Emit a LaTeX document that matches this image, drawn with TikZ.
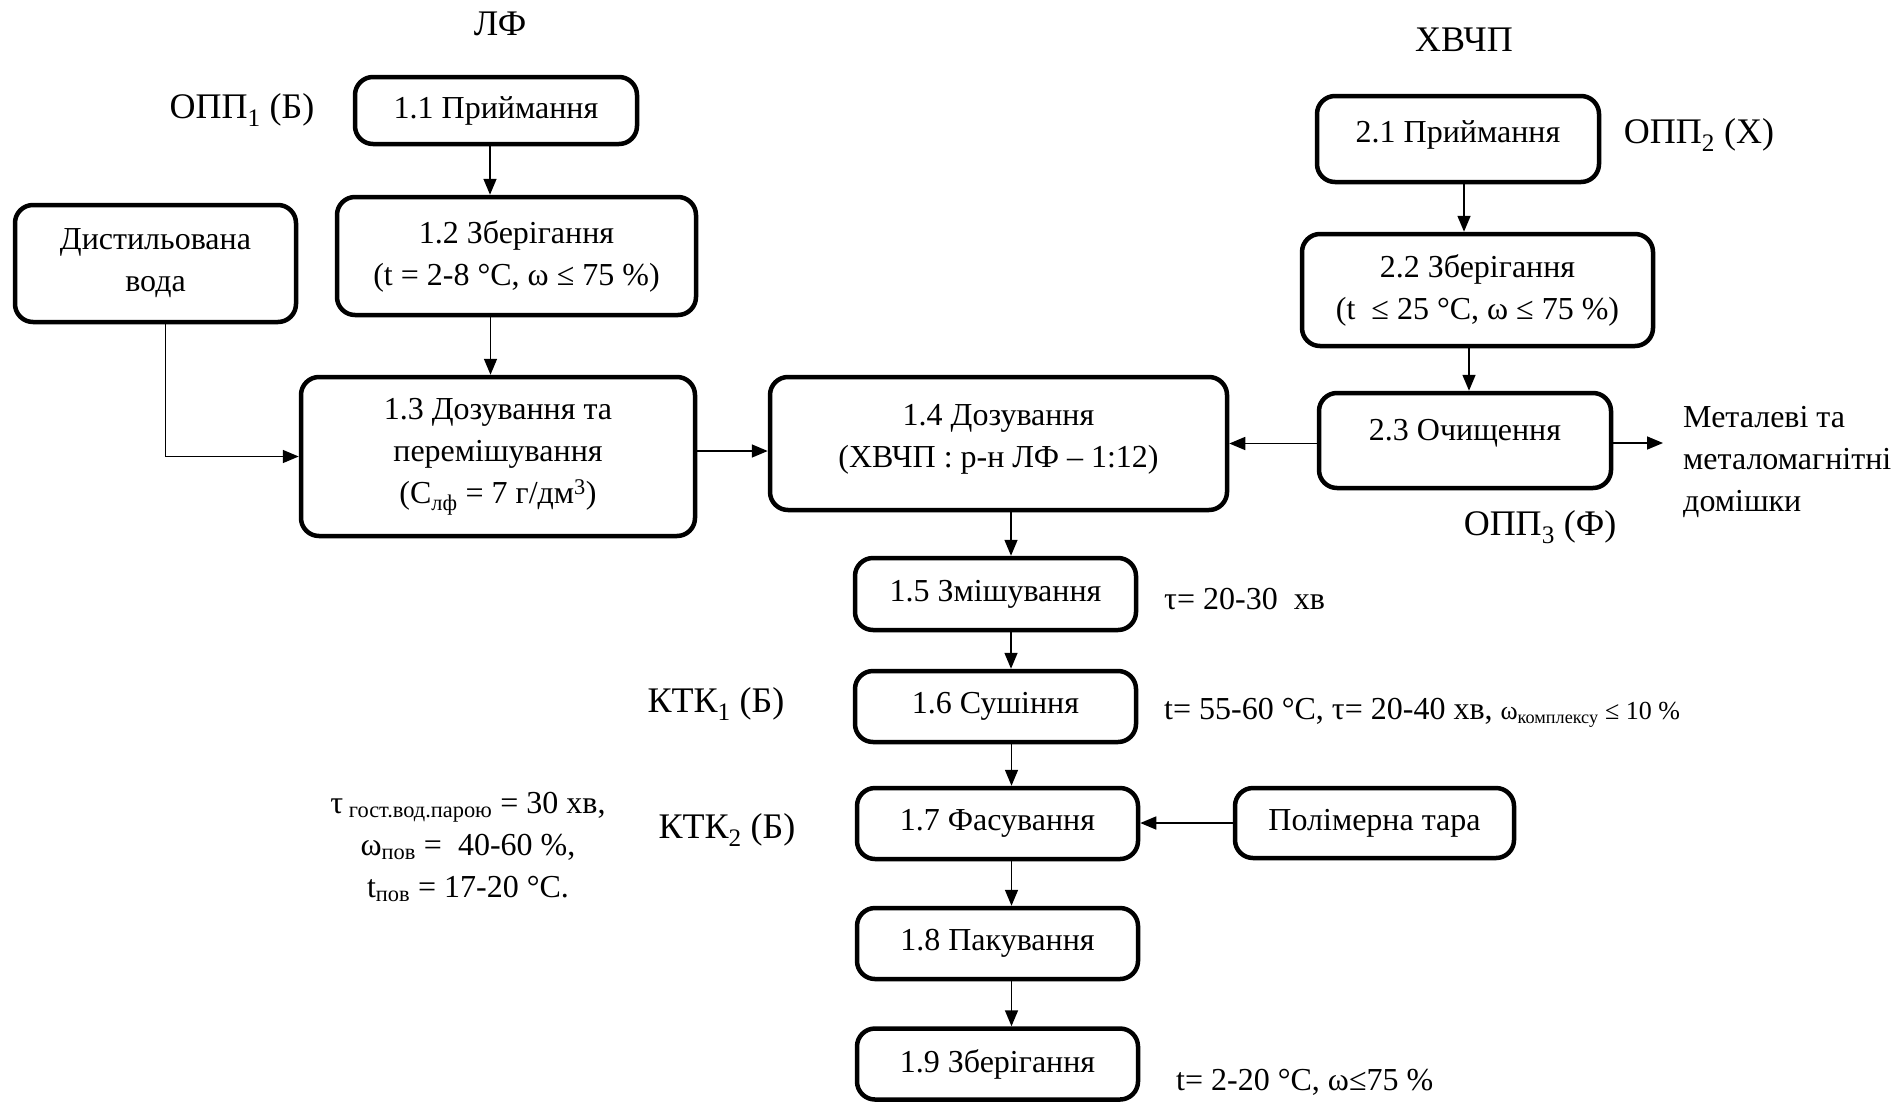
\documentclass[tikz,border=0pt]{standalone}
\usepackage{fontspec}
\setmainfont{Liberation Serif}
\usetikzlibrary{arrows.meta,calc}
\newcommand\boxfont{\fontsize{32}{42}\selectfont}
\newcommand\labfont{\fontsize{36}{42}\selectfont}
\newcommand\smallfont{\fontsize{26}{30}\selectfont}
\begin{document}
\begin{tikzpicture}[x=1pt,y=-1pt,
  box/.style={draw, line width=4.5pt, rounded corners=18pt, align=center,
              font=\boxfont, inner sep=0pt},
  arr/.style={line width=1.6pt, -{Triangle[length=16pt,width=13pt]}},
  lab/.style={font=\labfont, inner sep=0pt},
  txt/.style={font=\boxfont, inner sep=0pt, align=left}]
\useasboundingbox (0,0) rectangle (1897,1103);

% column headings and control points
\node[lab] (hlf) at (500,24) {ЛФ};
\node[lab] (hxv) at (1464,40) {ХВЧП};
\node[lab] (opp1) at (242,110) {ОПП\textsubscript{1} (Б)};
\node[lab] (opp2) at (1699,135) {ОПП\textsubscript{2} (Х)};
\node[lab] (opp3) at (1540,527) {ОПП\textsubscript{3} (Ф)};
\node[lab] (ktk1) at (716,704) {КТК\textsubscript{1} (Б)};
\node[lab] (ktk2) at (727,830) {КТК\textsubscript{2} (Б)};

% process steps
\node[box, minimum width=282pt, minimum height=67pt] (n11) at (496,110.5) {1.1 Приймання};
\node[box, minimum width=359pt, minimum height=118pt] (n12) at (516.5,256) {1.2 Зберігання\\(t = 2-8 °C, ω ≤ 75 \%)};
\node[box, minimum width=281pt, minimum height=117pt] (water) at (155.5,263.5) {Дистильована\\вода};
\node[box, minimum width=394pt, minimum height=159pt] (n13) at (498,456.5) {1.3 Дозування та\\перемішування\\(С\textsubscript{лф} = 7 г/дм\textsuperscript{3})};
\node[box, minimum width=457pt, minimum height=133pt] (n14) at (998.5,443.5) {1.4 Дозування\\(ХВЧП : р-н ЛФ – 1:12)\\[-27pt]};
\node[box, minimum width=282pt, minimum height=86pt] (n21) at (1458,139) {2.1 Приймання\\[-28pt]};
\node[box, minimum width=351pt, minimum height=112pt] (n22) at (1477.5,290) {2.2 Зберігання\\(t~ ≤ 25 °C, ω ≤ 75 \%)};
\node[box, minimum width=292pt, minimum height=95pt] (n23) at (1465,440.5) {2.3 Очищення\\[-20pt]};
\node[box, minimum width=281pt, minimum height=72pt] (n15) at (995.5,594) {1.5 Змішування};
\node[box, minimum width=281pt, minimum height=71pt] (n16) at (995.5,706.5) {1.6 Сушіння};
\node[box, minimum width=281pt, minimum height=71pt] (n17) at (997.5,823.5) {1.7 Фасування};
\node[box, minimum width=279pt, minimum height=70pt] (tara) at (1374.5,823) {Полімерна тара};
\node[box, minimum width=281pt, minimum height=71pt] (n18) at (997.5,943.5) {1.8 Пакування};
\node[box, minimum width=281pt, minimum height=71pt] (n19) at (997.5,1064) {1.9 Зберігання};

% process parameters
\node[txt, anchor=west] (imp) at (1683,462) {Металеві та\\металомагнітні\\домішки};
\node[txt, anchor=west] (p15) at (1164,599) {τ= 20-30~ хв};
\node[txt, anchor=west] (p16) at (1164,713) {t= 55-60 °C, τ= 20-40 хв, {\smallfont ω\textsubscript{комплексу} ≤ 10 \%}};
\node[txt, anchor=west] (p19) at (1176,1082) {t= 2-20 °C, ω≤75 \%};
\node[txt, align=center] (pst) at (468,847) {τ\textsubscript{ гост.вод.парою} = 30 хв,\\ω\textsubscript{пов} = ~40-60 \%,\\t\textsubscript{пов} = 17-20 °C.};

% flows
\coordinate (out) at (1663,443);
\draw[arr] ([xshift=-6pt]n11.south) -- ([xshift=-6pt]n11.south |- n12.north);
\draw[arr] ([xshift=-26pt]n12.south) -- ([xshift=-26pt]n12.south |- n13.north);
\draw[arr] ([xshift=10pt]water.south) |- (n13.west);
\draw[arr] ([yshift=5.5pt]n13.east) -- ([yshift=5.5pt]n13.east -| n14.west);
\draw[arr] (n23.west |- n14.east) -- (n14.east);
\draw[arr] (n23.east |- out) -- (out);
\draw[arr] ([xshift=6pt]n21.south) -- ([xshift=6pt]n21.south |- n22.north);
\draw[arr] ([xshift=-8.5pt]n22.south) -- ([xshift=-8.5pt]n22.south |- n23.north);
\draw[arr] ([xshift=15.5pt]n15.north |- n14.south) -- ([xshift=15.5pt]n15.north);
\draw[arr] ([xshift=15.5pt]n15.south) -- ([xshift=15.5pt]n16.north);
\draw[arr] ([xshift=16pt]n16.south) -- ([xshift=14pt]n17.north);
\draw[arr] ([xshift=14pt]n17.south) -- ([xshift=14pt]n18.north);
\draw[arr] ([xshift=14pt]n18.south) -- ([xshift=14pt]n19.north);
\draw[arr] (tara.west) -- (tara.west -| n17.east);
\end{tikzpicture}
\end{document}
